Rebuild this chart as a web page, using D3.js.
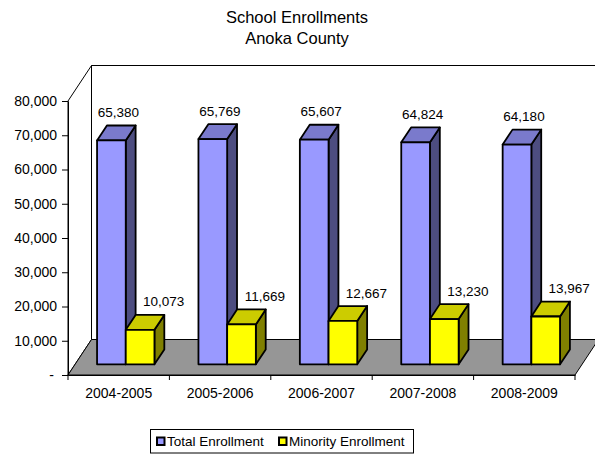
<!DOCTYPE html>
<html>
<head>
<meta charset="utf-8">
<script src="https://cdn.jsdelivr.net/npm/d3@7/dist/d3.min.js"></script>
<style>
  html, body { margin: 0; padding: 0; background: #fff; }
  svg { display: block; font-family: "Liberation Sans", Arial, sans-serif; }
</style>
</head>
<body>
<svg id="chart" width="595" height="456"></svg>
<script>
// School enrollment figures, Anoka County
const categories = ["2004-2005", "2005-2006", "2006-2007", "2007-2008", "2008-2009"];
const totalEnrollment = [65380, 65769, 65607, 64824, 64180];
const minorityEnrollment = [10073, 11669, 12667, 13230, 13967];
const seriesNames = ["Total Enrollment", "Minority Enrollment"];
const yTicks = [0, 10000, 20000, 30000, 40000, 50000, 60000, 70000, 80000];
const titleLines = ["School Enrollments", "Anoka County"];

const seriesValues = [totalEnrollment, minorityEnrollment];
const palette = [
  { front: "#9999FF", top: "#7A7ACC", side: "#4D4D80" },
  { front: "#FFFF00", top: "#CCCC00", side: "#808000" }
];
// label offsets (from the front-face centre) per series
const labelShift = [7, 23.5];

const svg = d3.select("#chart");

// Front plane of the plot area
const y = d3.scaleLinear().domain([0, 80000]).range([375, 101]);
const xCat = d3.scaleBand().domain(categories).range([68, 575]).padding(0);
const xGroup = d3.scaleBand().domain(categories).range([68, 575])
  .paddingInner(0.434).paddingOuter(0.217);
const xSeries = d3.scaleBand().domain(seriesNames).range([0, xGroup.bandwidth()]);

// Oblique depth projection
const DX = 23.5, DY = 35.5;
const Z0 = 0.30, Z1 = 0.72;
const P = (x, v, z) => [x + z * DX, y(v) - z * DY];
const poly = pts => pts.map(p => p.join(",")).join(" ");

const [xa, xb] = xCat.range();
const vMax = y.domain()[1];

// Back wall and left side wall
svg.append("polygon")
  .attr("points", poly([P(xa, vMax, 1), P(xb, vMax, 1), P(xb, 0, 1), P(xa, 0, 1)]))
  .attr("fill", "#fff").attr("stroke", "#000").attr("stroke-width", 1);
svg.append("polygon")
  .attr("points", poly([P(xa, 0, 0), P(xa, vMax, 0), P(xa, vMax, 1), P(xa, 0, 1)]))
  .attr("fill", "#fff").attr("stroke", "#000").attr("stroke-width", 1);

// Floor
svg.append("polygon")
  .attr("points", poly([P(xa, 0, 0), P(xb, 0, 0), P(xb, 0, 1), P(xa, 0, 1)]))
  .attr("fill", "#969696").attr("stroke", "#000").attr("stroke-width", 1);

// Y axis
const yAxis = d3.axisLeft(y)
  .tickValues(yTicks)
  .tickFormat(d => d === 0 ? "-" : d3.format(",")(d))
  .tickSize(6).tickSizeOuter(0).tickPadding(5);
const gy = svg.append("g").attr("transform", `translate(${xa},0)`).call(yAxis);
gy.selectAll("text").attr("font-size", 14).attr("fill", "#000")
  .attr("font-family", "Liberation Sans, Arial, sans-serif")
  .attr("dx", d => d === 0 ? -3 : 0);
gy.selectAll("line, path").attr("stroke", "#000");

// X axis
const xAxis = d3.axisBottom(xCat).tickSize(0).tickSizeOuter(0).tickPadding(13);
const gx = svg.append("g").attr("transform", `translate(0,${y(0)})`).call(xAxis);
gx.selectAll("text").attr("font-size", 14).attr("fill", "#000")
  .attr("font-family", "Liberation Sans, Arial, sans-serif");
gx.selectAll("path").attr("stroke", "#000");
gx.selectAll(".boundary")
  .data(d3.range(categories.length + 1))
  .join("line")
  .attr("class", "boundary")
  .attr("x1", i => xa + i * xCat.step())
  .attr("x2", i => xa + i * xCat.step())
  .attr("y1", 0).attr("y2", 5)
  .attr("stroke", "#000");

// Bars
const bars = [];
categories.forEach((c, i) => {
  seriesNames.forEach((s, k) => {
    const x0 = xGroup(c) + xSeries(s);
    bars.push({ cat: c, series: k, value: seriesValues[k][i], x0, x1: x0 + xSeries.bandwidth() });
  });
});

const gBars = svg.append("g")
  .attr("stroke", "#000").attr("stroke-width", 1.8).attr("stroke-linejoin", "round");

bars.forEach(b => {
  const col = palette[b.series];
  // right side face
  gBars.append("polygon")
    .attr("points", poly([P(b.x1, b.value, Z0), P(b.x1, b.value, Z1), P(b.x1, 0, Z1), P(b.x1, 0, Z0)]))
    .attr("fill", col.side);
  // top face
  gBars.append("polygon")
    .attr("points", poly([P(b.x0, b.value, Z0), P(b.x1, b.value, Z0), P(b.x1, b.value, Z1), P(b.x0, b.value, Z1)]))
    .attr("fill", col.top);
  // front face
  gBars.append("polygon")
    .attr("points", poly([P(b.x0, b.value, Z0), P(b.x1, b.value, Z0), P(b.x1, 0, Z0), P(b.x0, 0, Z0)]))
    .attr("fill", col.front);
});

// Value labels
svg.append("g").selectAll("text")
  .data(bars)
  .join("text")
  .attr("x", b => (b.x0 + b.x1) / 2 + Z0 * DX + labelShift[b.series])
  .attr("y", b => P(0, b.value, Z1)[1] - 8.5)
  .attr("text-anchor", "middle")
  .attr("font-size", 13.5)
  .attr("fill", "#000")
  .text(b => d3.format(",")(b.value));

// Title
svg.append("g").selectAll("text")
  .data(titleLines)
  .join("text")
  .attr("x", 297)
  .attr("y", (d, i) => 23 + i * 21)
  .attr("text-anchor", "middle")
  .attr("font-size", 16.5)
  .attr("fill", "#000")
  .text(d => d);

// Legend
const legend = svg.append("g");
legend.append("rect")
  .attr("x", 150.5).attr("y", 429.5).attr("width", 263).attr("height", 23.5)
  .attr("fill", "#fff").attr("stroke", "#000").attr("stroke-width", 1);
const legendX = [156, 278];
const items = legend.selectAll("g.item")
  .data(seriesNames)
  .join("g")
  .attr("class", "item")
  .attr("transform", (d, i) => `translate(${legendX[i]},0)`);
items.append("rect")
  .attr("x", 1).attr("y", 437.5).attr("width", 7.5).attr("height", 7.5)
  .attr("fill", (d, i) => palette[i].front)
  .attr("stroke", "#000").attr("stroke-width", 2);
items.append("text")
  .attr("x", 11).attr("y", 446)
  .attr("font-size", 13.5)
  .attr("fill", "#000")
  .text(d => d);
</script>
</body>
</html>
